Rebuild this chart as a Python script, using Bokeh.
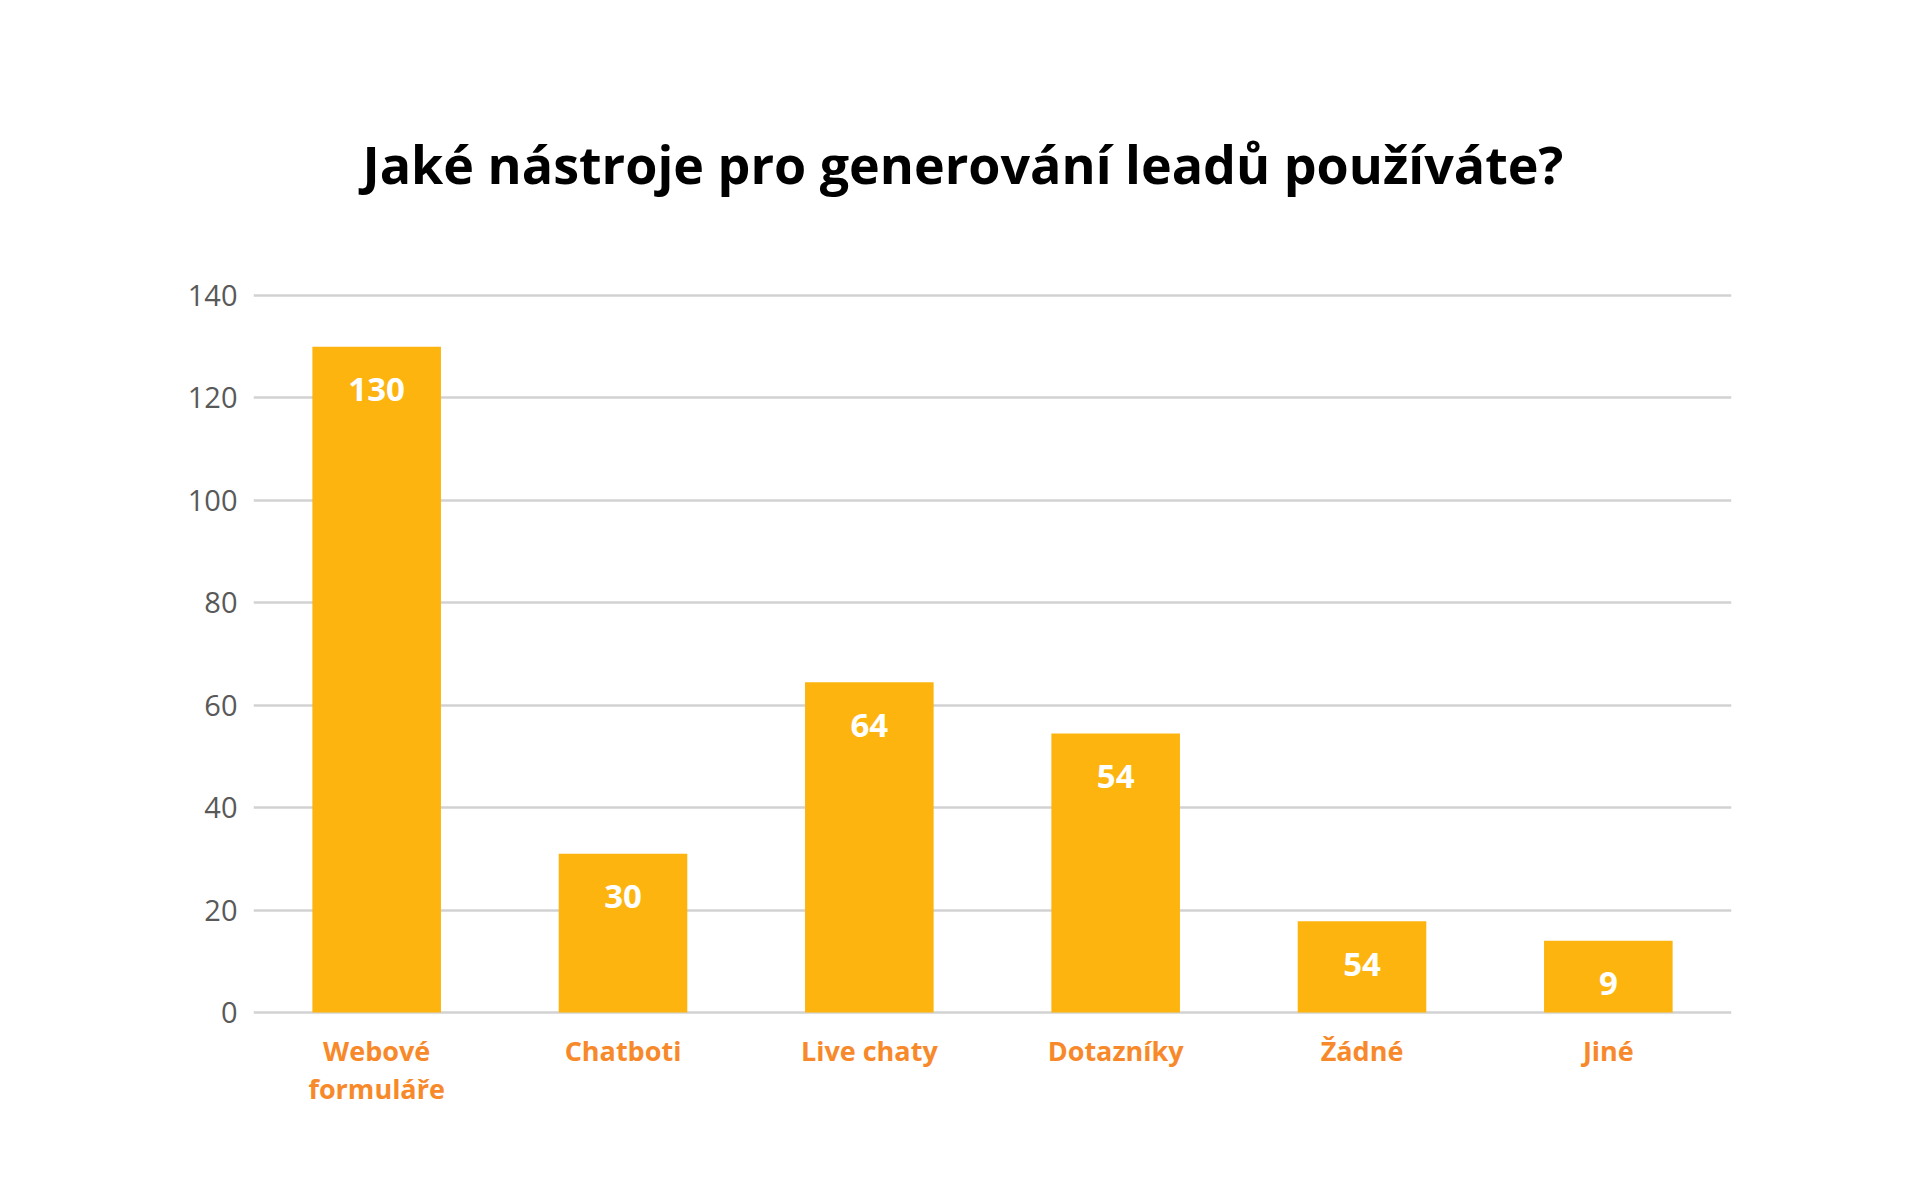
from bokeh.plotting import figure
from bokeh.models import FactorRange, Range1d, FixedTicker, ColumnDataSource
from bokeh.core.properties import value
from bokeh.embed import file_html
from bokeh.resources import INLINE

# ---- data ----
title_text = "Jaké nástroje pro generování leadů používáte?"
categories = ["Webové\nformuláře", "Chatboti", "Live chaty", "Dotazníky", "Žádné", "Jiné"]
bar_heights = [130, 31, 64.5, 54.5, 17.8, 14]
bar_labels = ["130", "30", "64", "54", "54", "9"]
y_ticks = [0, 20, 40, 60, 80, 100, 120, 140]

BAR_COLOR = "#FDB40E"
CAT_COLOR = "#F7892A"
GRID_COLOR = "#D2D2D2"
TICK_COLOR = "#595959"

p = figure(
    width=1904, height=1184,
    x_range=FactorRange(*categories, range_padding=0),
    y_range=Range1d(-0.586, 141.95),
    output_backend="svg", toolbar_location=None,
    min_border_left=253, min_border_right=173,
    min_border_top=285, min_border_bottom=169,
)
p.outline_line_color = None
p.background_fill_color = "white"
p.border_fill_color = "white"

src = ColumnDataSource(dict(cat=categories, h=bar_heights, lab=bar_labels))
p.vbar(x="cat", top="h", bottom=0, width=0.522, source=src,
       fill_color=BAR_COLOR, line_color=None)
p.text(x="cat", y="h", text="lab", source=src, y_offset=43,
       text_align="center", text_baseline="middle",
       text_color="white", text_font=value("Open Sans"),
       text_font_style="bold", text_font_size="33px")

# grid
p.xgrid.grid_line_color = None
p.ygrid.grid_line_color = GRID_COLOR
p.ygrid.grid_line_width = 2.5
p.ygrid.ticker = FixedTicker(ticks=y_ticks)

# y axis
ya = p.yaxis[0]
ya.ticker = FixedTicker(ticks=y_ticks)
ya.axis_line_color = None
ya.major_tick_line_color = None
ya.minor_tick_line_color = None
ya.major_label_standoff = 10
ya.major_label_text_font = "Open Sans"
ya.major_label_text_font_size = "29px"
ya.major_label_text_color = TICK_COLOR

# x axis
xa = p.xaxis[0]
xa.axis_line_color = None
xa.major_tick_line_color = None
xa.minor_tick_line_color = None
xa.major_label_standoff = 10
xa.major_label_text_font = "Open Sans"
xa.major_label_text_font_style = "bold"
xa.major_label_text_font_size = "27px"
xa.major_label_text_color = CAT_COLOR
xa.major_label_text_line_height = 1.04

# title
p.title.text = title_text
p.title.align = "left"
p.title.offset = 109
p.title.standoff = 174
p.title.text_font = "Open Sans"
p.title.text_font_style = "bold"
p.title.text_font_size = "52px"
p.title.text_color = "black"

open("out.html", "w").write(file_html(p, INLINE))
